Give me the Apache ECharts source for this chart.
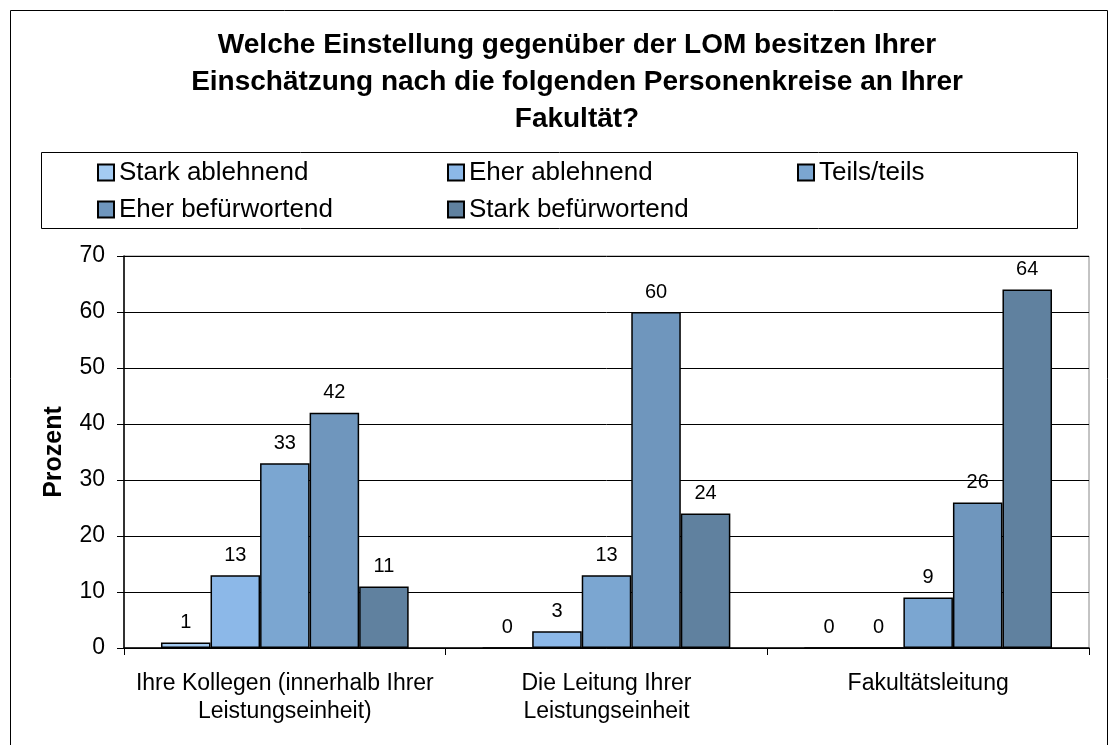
<!DOCTYPE html>
<html>
<head>
<meta charset="utf-8">
<script src="https://cdn.jsdelivr.net/npm/echarts@6/dist/echarts.min.js"></script>
<style>
html,body{margin:0;padding:0;background:#fff;}
#chart{width:1118px;height:745px;}
</style>
</head>
<body>
<div id="chart"></div>
<script>
var titleText = 'Welche Einstellung gegenüber der LOM besitzen Ihrer\nEinschätzung nach die folgenden Personenkreise an Ihrer\nFakultät?';
var categories = ['Ihre Kollegen (innerhalb Ihrer\nLeistungseinheit)', 'Die Leitung Ihrer\nLeistungseinheit', 'Fakultätsleitung'];
var seriesNames = ['Stark ablehnend', 'Eher ablehnend', 'Teils/teils', 'Eher befürwortend', 'Stark befürwortend'];
var starkAblehnend = [1, 0, 0];
var eherAblehnend = [13, 3, 0];
var teilsTeils = [33, 13, 9];
var eherBefuerwortend = [42, 60, 26];
var starkBefuerwortend = [11, 24, 64];
var yAxisName = 'Prozent';

var colors = ['#a4cbf2', '#8cb8e8', '#7ba6d1', '#6f96bd', '#60819f'];
var values = [starkAblehnend, eherAblehnend, teilsTeils, eherBefuerwortend, starkBefuerwortend];
var FONT = '"Liberation Sans", Arial, sans-serif';

var chart = echarts.init(document.getElementById('chart'), null, {renderer: 'canvas'});
var series = seriesNames.map(function (name, i) {
  return {
    name: name,
    type: 'bar',
    data: values[i],
    barGap: '0%',
    barCategoryGap: '23%',
    itemStyle: {color: colors[i], borderColor: '#000', borderWidth: 1.5},
    label: {show: true, position: 'top', distance: 10, color: '#000', fontSize: 20, fontFamily: FONT},
    emphasis: {disabled: true}
  };
});

chart.setOption({
  animation: false,
  backgroundColor: '#fff',
  title: {
    text: titleText,
    left: 572,
    top: 22,
    textAlign: 'center',
    textStyle: {fontFamily: FONT, fontSize: 28, fontWeight: 'bold', color: '#000', lineHeight: 37}
  },
  graphic: [
    {type: 'rect', shape: {x: 10.5, y: 10.5, width: 1097, height: 760}, style: {fill: null, stroke: '#000', lineWidth: 1}, silent: true},
    {type: 'rect', shape: {x: 41.5, y: 152.5, width: 1036, height: 76}, style: {fill: null, stroke: '#000', lineWidth: 1}, silent: true}
  ],
  legend: {
    data: seriesNames,
    left: 97,
    top: 154,
    width: 1060,
    padding: 0,
    itemGap: 0,
    itemWidth: 16,
    itemHeight: 16,
    icon: 'rect',
    textStyle: {fontFamily: FONT, fontSize: 26, color: '#000', width: 328, lineHeight: 37}
  },
  grid: {
    left: 124, right: 29, top: 256, bottom: 97,
    show: true, borderColor: '#888', borderWidth: 1
  },
  xAxis: {
    type: 'category',
    data: categories,
    axisLine: {lineStyle: {color: '#000', width: 1.5}},
    axisTick: {show: true, length: 7, lineStyle: {color: '#000'}},
    axisLabel: {fontFamily: FONT, fontSize: 23, color: '#000', lineHeight: 28, margin: 22, interval: 0}
  },
  yAxis: {
    type: 'value',
    min: 0, max: 70, interval: 10,
    name: yAxisName,
    nameLocation: 'middle',
    nameRotate: 90,
    nameGap: 57,
    nameTextStyle: {fontFamily: FONT, fontSize: 25, fontWeight: 'bold', color: '#000'},
    axisLine: {show: true, lineStyle: {color: '#000', width: 1.5}},
    axisTick: {show: true, length: 7, lineStyle: {color: '#000'}},
    axisLabel: {fontFamily: FONT, fontSize: 23, color: '#000', margin: 19},
    splitLine: {lineStyle: {color: '#000', width: 1}}
  },
  series: series
});
</script>
</body>
</html>
